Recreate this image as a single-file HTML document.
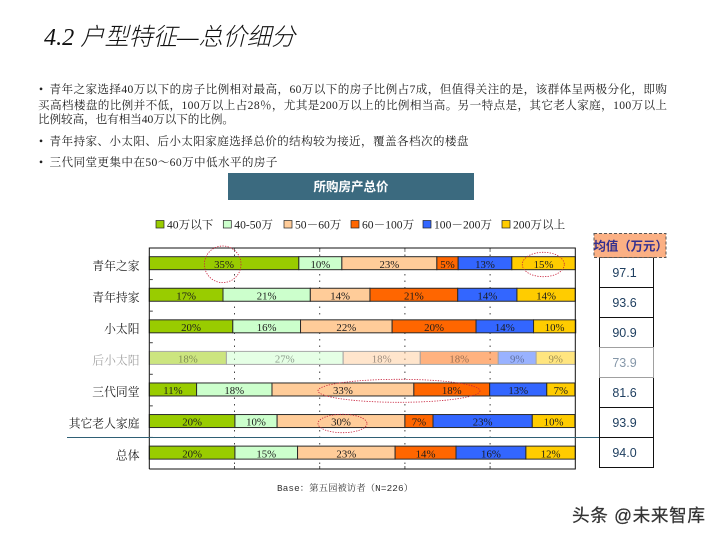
<!DOCTYPE html>
<html lang="zh">
<head>
<meta charset="utf-8">
<title>4.2 户型特征—总价细分</title>
<style>
html,body{margin:0;padding:0;background:#fff;width:720px;height:540px;overflow:hidden}
svg{display:block}
.body-text{font-family:"Liberation Serif","Noto Serif CJK SC",serif;font-size:11.6px;fill:#222}
.cat{font-family:"Liberation Serif","Noto Serif CJK SC",serif;font-size:11.8px;fill:#222;text-anchor:end}
.leg{font-family:"Liberation Serif","Noto Serif CJK SC",serif;font-size:11.6px;fill:#222}
.val{font-family:"Liberation Serif","Noto Serif CJK SC",serif;font-size:10.8px;fill:#1c1c1c;text-anchor:middle}
.avg{font-family:"Liberation Sans",sans-serif;font-size:12.5px;fill:#1f3f60;text-anchor:middle}
</style>
</head>
<body>
<svg id="slide" width="720" height="540" viewBox="0 0 720 540" xmlns="http://www.w3.org/2000/svg">
  <text x="44" y="45" font-family="'Liberation Serif','Noto Sans CJK SC',sans-serif" font-style="italic" font-size="24.2" font-weight="300" fill="#111">4.2 户型特征—总价细分</text>

  <g>
    <text class="body-text" x="39" y="93">•</text>
    <text class="body-text" x="49.5" y="93" textLength="617.5" lengthAdjust="spacing">青年之家选择40万以下的房子比例相对最高，60万以下的房子比例占7成，但值得关注的是，该群体呈两极分化，即购</text>
    <text class="body-text" x="38" y="109" textLength="629" lengthAdjust="spacing">买高档楼盘的比例并不低，100万以上占28％，尤其是200万以上的比例相当高。另一特点是，其它老人家庭，100万以上</text>
    <text class="body-text" x="38" y="123" textLength="196" lengthAdjust="spacing">比例较高，也有相当40万以下的比例。</text>
    <text class="body-text" x="39" y="145">•</text>
    <text class="body-text" x="49.5" y="145" textLength="419" lengthAdjust="spacing">青年持家、小太阳、后小太阳家庭选择总价的结构较为接近，覆盖各档次的楼盘</text>
    <text class="body-text" x="39" y="166">•</text>
    <text class="body-text" x="49.5" y="166" textLength="228" lengthAdjust="spacing">三代同堂更集中在50～60万中低水平的房子</text>
  </g>

  <rect x="228" y="173" width="246" height="27" fill="#3b6a7f"/>
  <text x="351" y="191" text-anchor="middle" font-family="'Liberation Sans','Noto Sans CJK SC',sans-serif" font-size="12.5" font-weight="700" fill="#fff">所购房产总价</text>

  <g id="legend"></g>
  <g id="grid"></g>
  <g id="bars"></g>
  <g id="axes"></g>
  <g id="labels"></g>
  <g id="avg-table"></g>

  <g fill="none" stroke="#c8203a" stroke-width="0.8" stroke-dasharray="1.3 1.3">
    <ellipse cx="222.7" cy="264.3" rx="18.3" ry="18.3"/>
    <ellipse cx="543.3" cy="264.5" rx="21" ry="12.2"/>
    <ellipse cx="399" cy="390.8" rx="81" ry="11.5"/>
    <ellipse cx="342.5" cy="423.5" rx="24.5" ry="9.2"/>
  </g>

  <line x1="67" x2="599" y1="437.5" y2="437.5" stroke="#2f6075" stroke-width="1"/>

  <text x="277" y="491" font-family="'Liberation Mono','Noto Serif CJK SC',monospace" font-size="9.3" fill="#333" textLength="136" lengthAdjust="spacing">Base：第五园被访者（N=226）</text>
  <text x="572" y="521.5" font-family="'Liberation Sans','Noto Sans CJK SC',sans-serif" font-size="17.6" fill="#333" stroke="#333" stroke-width="0.25" textLength="133" lengthAdjust="spacing">头条 @未来智库</text>
</svg>

<script>
const categories = ['青年之家','青年持家','小太阳','后小太阳','三代同堂','其它老人家庭','总体'];
const seriesNames = ['40万以下','40-50万','50－60万','60－100万','100－200万','200万以上'];
const seriesColors = ['#99cc00','#ccffcc','#ffcc99','#ff6600','#3366ff','#ffcc00'];

const under40 = [35.1,17.3,19.6,18.1,11.1,20.1,20.1];
const from40to50 = [10.1,20.5,15.9,27.4,17.7,9.9,14.7];
const from50to60 = [22.3,14.0,21.5,18.1,33.3,30.0,22.9];
const from60to100 = [5.0,20.6,19.7,18.3,17.8,6.6,14.3];
const from100to200 = [12.6,13.9,13.5,8.9,13.4,23.3,16.4];
const over200 = [14.9,13.7,9.9,9.2,6.6,10.0,11.6];

const under40Labels = ['35%','17%','20%','18%','11%','20%','20%'];
const from40to50Labels = ['10%','21%','16%','27%','18%','10%','15%'];
const from50to60Labels = ['23%','14%','22%','18%','33%','30%','23%'];
const from60to100Labels = ['5%','21%','20%','18%','18%','7%','14%'];
const from100to200Labels = ['13%','14%','14%','9%','13%','23%','16%'];
const over200Labels = ['15%','14%','10%','9%','7%','10%','12%'];

const averages = ['97.1','93.6','90.9','73.9','81.6','93.9','94.0'];
const gridTicks = [20,40,60,80];
const mutedCategory = '后小太阳';

const seriesValues = [under40,from40to50,from50to60,from60to100,from100to200,over200];
const seriesLabels = [under40Labels,from40to50Labels,from50to60Labels,from60to100Labels,from100to200Labels,over200Labels];

const NS = 'http://www.w3.org/2000/svg';
const plot = {left:149.3,right:575.3,top:248,bottom:469,barH:13};
const bandH = (plot.bottom - plot.top) / categories.length;
function xScale(v){ return plot.left + v * (plot.right - plot.left) / 100; }
function bandTop(i){ return plot.top + i * bandH; }
function barY(i){ return bandTop(i) + (bandH - plot.barH) / 2 - 0.6; }
function mk(parent, tag, attrs, text){
  const el = document.createElementNS(NS, tag);
  for (const k in attrs) el.setAttribute(k, attrs[k]);
  if (text !== undefined) el.textContent = text;
  parent.appendChild(el);
  return el;
}

/* legend: swatch width + label; gaps follow the label lengths */
const legendG = document.getElementById('legend');
const legendX = [156,223.3,284,351,423,502];
seriesNames.forEach(function(name, s){
  const sw = mk(legendG,'rect',{x:legendX[s],y:220.5,width:8,height:7.5,fill:seriesColors[s],stroke:'#222','stroke-width':0.7});
  
  
  const t = mk(legendG,'text',{x:legendX[s]+11,y:228.3,class:'leg'},name);
  
  
});

/* gridlines */
const gridG = document.getElementById('grid');
gridTicks.forEach(function(v){
  const l = mk(gridG,'line',{x1:xScale(v),x2:xScale(v),y1:plot.top,y2:plot.bottom,stroke:'#444','stroke-width':1,'stroke-dasharray':'1.5 5'});
  
  
  const t = mk(gridG,'line',{x1:xScale(v),x2:xScale(v),y1:plot.top,y2:plot.top+4,stroke:'#777','stroke-width':1});
  
  
  const b = mk(gridG,'line',{x1:xScale(v),x2:xScale(v),y1:plot.bottom-3,y2:plot.bottom,stroke:'#555','stroke-width':1});
  
  
});

/* stacked bars */
const barsG = document.getElementById('bars');
categories.forEach(function(cat, i){
  const muted = cat === mutedCategory;
  let acc = 0;
  seriesValues.forEach(function(vals, s){
    const x0 = xScale(acc);
    const x1 = xScale(acc + vals[i]);
    const r = mk(barsG,'rect',{x:x0,y:barY(i),width:x1-x0,height:plot.barH,fill:seriesColors[s],
      'fill-opacity':muted?0.5:1,stroke:muted?'#a8a8a8':'#2a2a2a','stroke-width':1});
    
    
    const t = mk(barsG,'text',{x:(x0+x1)/2,y:barY(i)+plot.barH-1.8,class:'val'},seriesLabels[s][i]);
    if (muted) t.setAttribute('fill-opacity', '0.45');
    
    
    acc += vals[i];
  });
});

/* axes */
const axesG = document.getElementById('axes');
const frame = mk(axesG,'path',{d:'M'+plot.left+' '+plot.bottom+'V'+plot.top+'H'+plot.right+'V'+plot.bottom+'H'+plot.left,fill:'none',stroke:'#111','stroke-width':1});


categories.forEach(function(cat, i){
  if (i === 0) return;
  const tick = mk(axesG,'line',{x1:plot.left,x2:plot.left+3.5,y1:bandTop(i),y2:bandTop(i),stroke:'#444','stroke-width':1});
  
  
});

/* category labels */
const labelsG = document.getElementById('labels');
categories.forEach(function(cat, i){
  const t = mk(labelsG,'text',{x:139.5,y:barY(i)+plot.barH+0.2,class:'cat'},cat);
  if (cat === mutedCategory) t.setAttribute('fill-opacity', '0.42');
  
  
});

/* average table */
const tableG = document.getElementById('avg-table');
const tableTop = 257.5;
const cellH = 30;
averages.forEach(function(v, i){
  const muted = categories[i] === mutedCategory;
  const r = mk(tableG,'rect',{x:599.5,y:tableTop+i*cellH,width:54,height:cellH,fill:'#fff',stroke:'#111','stroke-width':1});
  
  
  const t = mk(tableG,'text',{x:624.5,y:tableTop+i*cellH+19.5,class:'avg'},v);
  if (muted) t.setAttribute('fill-opacity', '0.55');
  
  
});
const mutedIdx = categories.indexOf(mutedCategory);
const mutedBox = mk(tableG,'rect',{x:599.5,y:tableTop+mutedIdx*cellH,width:54,height:cellH,fill:'none',stroke:'#a0a0a0','stroke-width':1});


const headBox = mk(tableG,'rect',{x:594,y:233.5,width:72,height:24,fill:'#fbb084',stroke:'#555','stroke-width':1,'stroke-dasharray':'3 2'});


const headText = mk(tableG,'text',{x:593.5,y:250.5,'font-family':'"Liberation Sans","Noto Sans CJK SC",sans-serif','font-size':'12.4','font-weight':'700',fill:'#33308f'},'均值（万元）');


</script>
</body>
</html>
